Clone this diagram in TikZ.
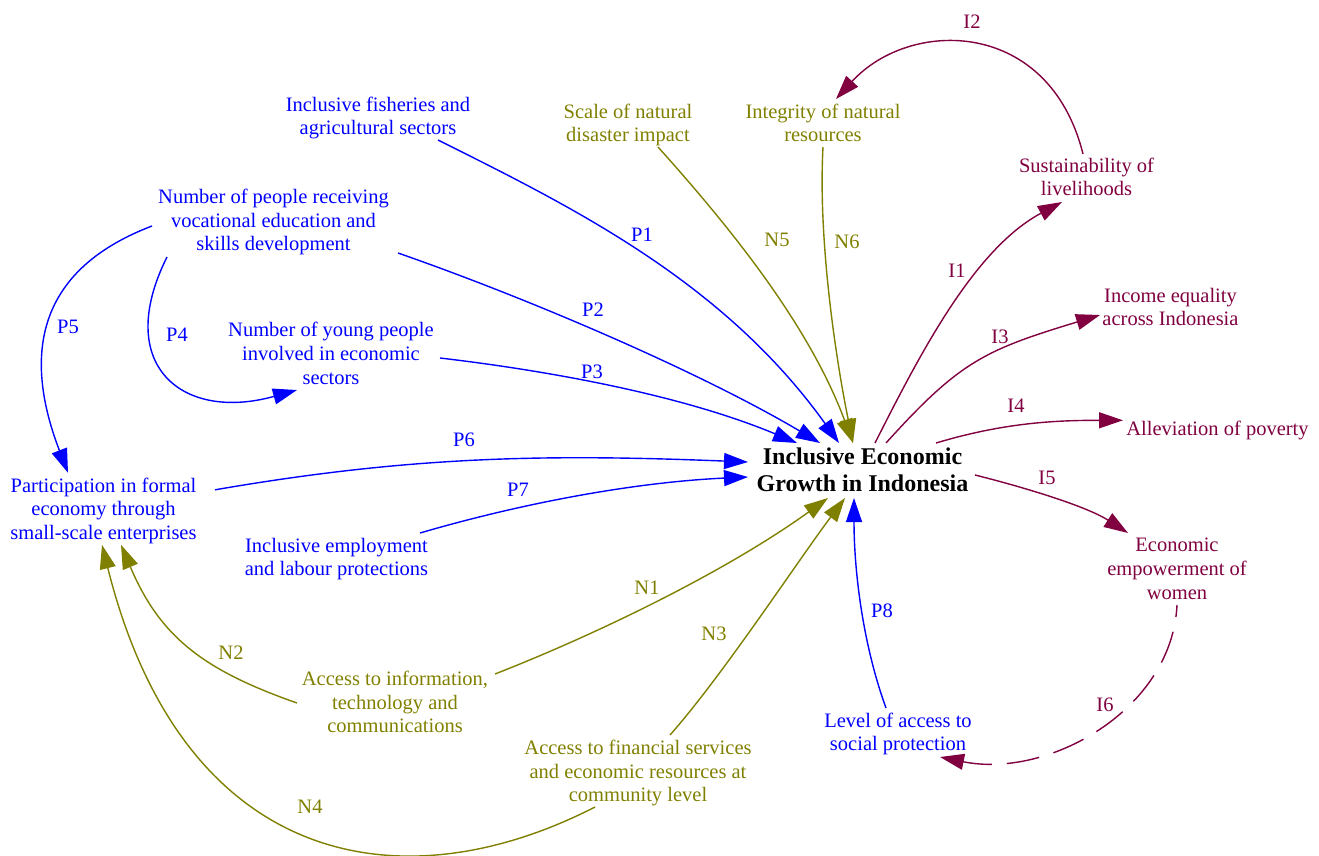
\documentclass[tikz,border=0pt]{standalone}
\usepackage{fontspec}
\setmainfont{Liberation Serif}
\usetikzlibrary{arrows.meta}

\definecolor{cblue}{RGB}{0,0,255}
\definecolor{colive}{RGB}{128,128,0}
\definecolor{cmaroon}{RGB}{128,0,64}

\newcommand{\txtfont}{\fontsize{20.5}{23.7}\selectfont}
\newcommand{\hubfont}{\fontsize{24}{27}\selectfont\bfseries}

\tikzset{
  factor/.style={font=\txtfont, align=center, inner sep=0pt},
  hub/.style={font=\hubfont, align=center, inner xsep=9pt, inner ysep=5pt, text=black},
  tag/.style={font=\txtfont, inner sep=0pt},
  link/.style={line width=1.4pt, -{Triangle[length=24pt,width=16pt]}},
  poslink/.style={link, cblue},
  neglink/.style={link, colive},
  implink/.style={link, cmaroon},
}

\begin{document}
\begin{tikzpicture}[x=1pt,y=1pt]
\useasboundingbox (0,0) rectangle (1319,-855);

% ---------- factors ----------
\node[hub] (growth) at (862.5,-469.5) {Inclusive Economic\\Growth in Indonesia};

\node[factor, text=cblue]   (fish)      at (378,-118)    {Inclusive fisheries and\\agricultural sectors};
\node[factor, text=colive]  (disaster)  at (628,-125)    {Scale of natural\\disaster impact};
\node[factor, text=colive]  (integrity) at (823,-123)    {Integrity of natural\\resources};
\node[factor, text=cmaroon] (sust)      at (1086.5,-177) {Sustainability of\\livelihoods};
\node[factor, text=cblue]   (voc)       at (273.5,-222)  {Number of people receiving\\vocational education and\\skills development};
\node[factor, text=cblue]   (young)     at (331,-353.5)  {Number of young people\\involved in economic\\sectors};
\node[factor, text=cmaroon] (income)    at (1170.5,-307) {Income equality\\across Indonesia};
\node[factor, text=cmaroon] (poverty)   at (1217.5,-430.3) {Alleviation of poverty};
\node[factor, text=cblue]   (particip)  at (103.5,-510.8) {Participation in formal\\economy through\\small-scale enterprises};
\node[factor, text=cblue]   (employ)    at (336.5,-559)  {Inclusive employment\\and labour protections};
\node[factor, text=cmaroon] (women)     at (1177,-569)   {Economic\\empowerment of\\women};
\node[factor, text=colive]  (info)      at (395,-702)    {Access to information,\\technology and\\communications};
\node[factor, text=cblue]   (level)     at (898,-734)    {Level of access to\\social protection};
\node[factor, text=colive]  (finance)   at (638,-773)    {Access to financial services\\and economic resources at\\community level};

% ---------- positive links ----------
\draw[poslink] ([shift={(60,-22)}]fish.center) .. controls +(134,-67) and +(-116,162) .. ([shift={(-23.5,26.5)}]growth.center);
\draw[poslink] ([shift={(124.5,-31)}]voc.center) .. controls +(132,-46) and +(-120,71) .. ([shift={(-42.5,26.5)}]growth.center);
\draw[poslink] ([shift={(109,-4.5)}]young.center) .. controls +(119,-14) and +(-110,46) .. ([shift={(-65.5,26.5)}]growth.center);
\draw[poslink] ([shift={(-106.5,-35)}]voc.center) .. controls +(-54,-108) and +(-115,-32) .. ([shift={(-34,-36.5)}]young.center);
\draw[poslink] ([shift={(-121.5,-4)}]voc.center) .. controls +(-105,-40) and +(-50,130) .. ([shift={(-35.5,38)}]particip.center);
\draw[poslink] ([shift={(111.5,21)}]particip.center) .. controls +(197,34) and +(-200,8) .. ([shift={(-114.5,7.5)}]growth.center);
\draw[poslink] ([shift={(83.5,26)}]employ.center) .. controls +(106,31) and +(-110,-5) .. ([shift={(-114.5,-7.5)}]growth.center);
\draw[poslink] ([shift={(-12,26)}]level.center) .. controls +(-24,66) and +(0,-70) .. ([shift={(-8.5,-28.5)}]growth.center);

% ---------- negative links ----------
\draw[neglink] ([shift={(100,28)}]info.center) .. controls +(112,44) and +(-97,-70) .. ([shift={(-34.5,-28.5)}]growth.center);
\draw[neglink] ([shift={(-98,-1)}]info.center) .. controls +(-94,33) and +(39,-92) .. ([shift={(17.5,-34)}]particip.center);
\draw[neglink] ([shift={(32,38)}]finance.center) .. controls +(53,60) and +(-48,-64) .. ([shift={(-17.5,-28.5)}]growth.center);
\draw[neglink] ([shift={(-43,-34)}]finance.center) .. controls +(-197,-101) and +(80,-320) .. ([shift={(-1.5,-34)}]particip.center);
\draw[neglink] ([shift={(30,-22)}]disaster.center) .. controls +(80,-89) and +(-42,113) .. ([shift={(-9.5,26.5)}]growth.center);
\draw[neglink] ([shift={(0,-24)}]integrity.center) .. controls +(-5,-90) and +(-18,88) .. ([shift={(-9.5,26.5)}]growth.center);

% ---------- impact links ----------
\draw[implink] ([shift={(12.5,26.5)}]growth.center) .. controls +(45,89) and +(-88,-47) .. ([shift={(-24.5,-25)}]sust.center);
\draw[implink] ([shift={(-3.5,23)}]sust.center) .. controls +(-34,136) and +(74,81) .. ([shift={(13,24)}]integrity.center);
\draw[implink] ([shift={(23.5,26.5)}]growth.center) .. controls +(74,82) and +(-115,-35) .. ([shift={(-70.5,-8)}]income.center);
\draw[implink] ([shift={(73.5,26.5)}]growth.center) .. controls +(67,20) and +(-70,0) .. ([shift={(-94.5,10)}]poverty.center);
\draw[implink] ([shift={(112.5,-5.5)}]growth.center) .. controls +(48,-12) and +(-42,27) .. ([shift={(-49,36)}]women.center);
\draw[implink, dash pattern=on 33pt off 15pt, dash phase=21pt] ([shift={(0,-36)}]women.center) .. controls +(-5,-105) and +(108,-22) .. ([shift={(42,-23)}]level.center);

% ---------- link labels ----------
\node[tag, text=cblue] (lP1) at (642,-235) {P1};
\node[tag, text=cblue] (lP2) at (593,-310) {P2};
\node[tag, text=cblue] (lP3) at (592,-372) {P3};
\node[tag, text=cblue] (lP4) at (177,-335) {P4};
\node[tag, text=cblue] (lP5) at (68,-327) {P5};
\node[tag, text=cblue] (lP6) at (464,-440) {P6};
\node[tag, text=cblue] (lP7) at (518,-490) {P7};
\node[tag, text=cblue] (lP8) at (882,-611) {P8};
\node[tag, text=colive] (lN1) at (647,-588) {N1};
\node[tag, text=colive] (lN2) at (231,-653) {N2};
\node[tag, text=colive] (lN3) at (714,-634) {N3};
\node[tag, text=colive] (lN4) at (310,-807) {N4};
\node[tag, text=colive] (lN5) at (777,-240) {N5};
\node[tag, text=colive] (lN6) at (847,-242) {N6};
\node[tag, text=cmaroon] (lI1) at (957,-271) {I1};
\node[tag, text=cmaroon] (lI2) at (972,-22) {I2};
\node[tag, text=cmaroon] (lI3) at (1000,-337) {I3};
\node[tag, text=cmaroon] (lI4) at (1016,-406) {I4};
\node[tag, text=cmaroon] (lI5) at (1047,-478) {I5};
\node[tag, text=cmaroon] (lI6) at (1105,-705) {I6};
\end{tikzpicture}
\end{document}
